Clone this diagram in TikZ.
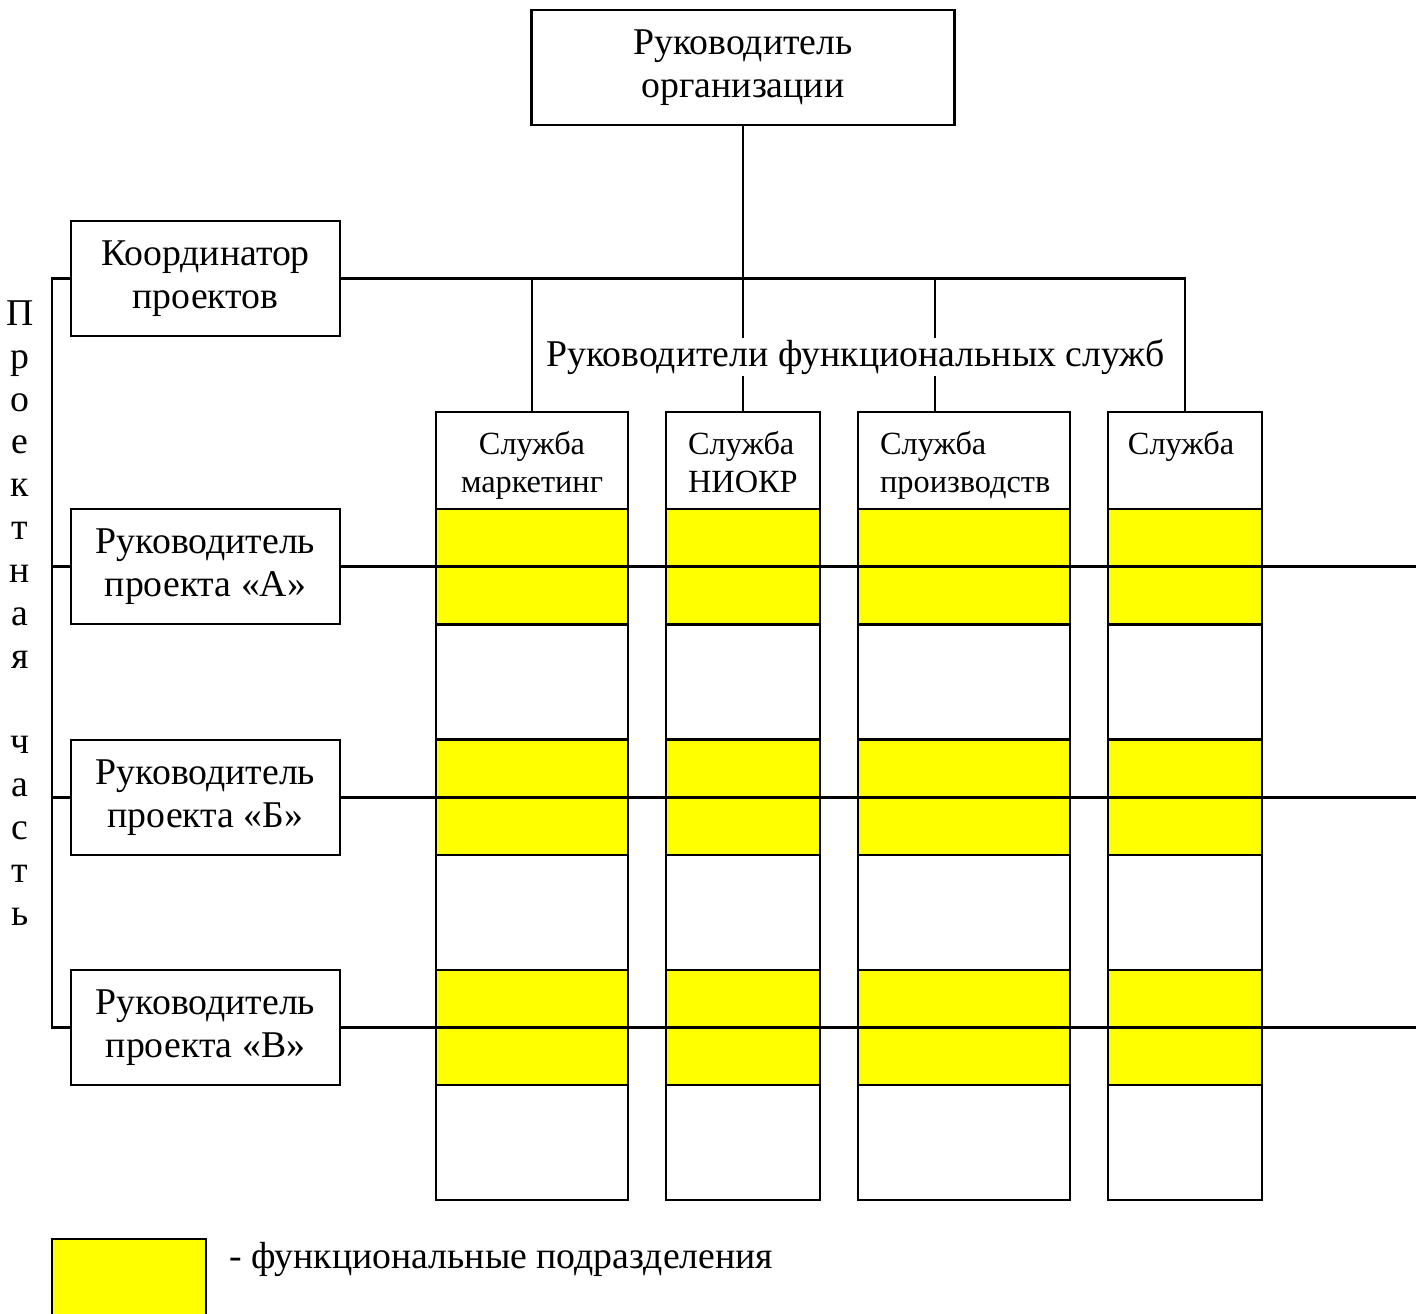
\documentclass[tikz,border=0pt]{standalone}
\usepackage{fontspec}
\setmainfont{Liberation Serif}
\definecolor{unitfill}{RGB}{255,255,0}
\newcommand\mainsize{\fontsize{21.5}{24.4}\selectfont}
\newcommand\hdrsize{\fontsize{18.4}{21.5}\selectfont}
\begin{document}
\begin{tikzpicture}[x=0.02cm, y=-0.02cm, line width=1.3pt,
  box/.style={draw, fill=white, minimum width=5.38cm, minimum height=2.3cm,
    align=center, inner sep=0pt, font=\mainsize},
  cell/.style={draw, minimum height=2.3cm, inner sep=0pt},
  hdrtext/.style={inner sep=0pt, font=\hdrsize, anchor=north},
  lbl/.style={inner sep=0pt, font=\mainsize}]
\useasboundingbox (0,0) rectangle (1426,1314);

% head of the organisation and the project side
\node[box, minimum width=8.46cm] (top) at (743,67.5) {Руководитель\\организации};
\node[box] (coord) at (205.5,278.5) {Координатор\\проектов};
\node[box] (pA) at (205.5,566.5) {Руководитель\\проекта «А»};
\node[box] (pB) at (205.5,797.5) {Руководитель\\проекта «Б»};
\node[box] (pC) at (205.5,1027.5) {Руководитель\\проекта «В»};

% functional columns: header cell and six rows
\foreach \n/\cx/\w in {1/532/3.84, 2/743/3.08, 3/964/4.24, 4/1185/3.08} {
  \node[cell, minimum width=\w cm, minimum height=1.94cm] (h\n) at (\cx,460.5) {};
  \foreach \r/\cy/\f in {1/566.5/unitfill, 2/682/white, 3/797.5/unitfill,
                         4/912.5/white, 5/1027.5/unitfill, 6/1142.5/white}
    \node[cell, fill=\f, minimum width=\w cm] (c\n r\r) at (\cx,\cy) {};
}

% column titles
\node[hdrtext, align=center] (t1) at (532,430) {Служба\\маркетинг};
\node[hdrtext, align=left, anchor=north west] (t2) at (687,430) {Служба\\НИОКР};
\node[hdrtext, align=left, anchor=north west] (t3) at (879,430) {Служба\\производств};
\node[hdrtext] (t4) at (1181,430) {Служба};

% links from the head to the functional services
\coordinate (j1) at (532,278.5);
\coordinate (j3) at (935,278.5);
\draw (top.south) -- (h2.north);
\draw (coord.east) -| (h4.north);
\draw (j1) -- (h1.north);
\draw (j3) -- (j3 |- h3.north);
\node[lbl, fill=white, inner ysep=1pt] (fl) at (855.5,357) {Руководители функциональных служб};

% project bracket on the left
\coordinate (bl) at (52,278.5);
\draw (coord.west) -- (bl) |- (pC.west);
\draw (pA.west) -- (pA.west -| bl);
\draw (pB.west) -- (pB.west -| bl);

% project lines across the matrix
\coordinate (eA) at (1416,566.5);
\coordinate (eB) at (1416,797.5);
\coordinate (eC) at (1416,1027.5);
\draw (pA.east) -- (eA);
\draw (pB.east) -- (eB);
\draw (pC.east) -- (eC);

% vertical caption
\node[lbl, align=center] (side) at (20,613)
  {П\\р\\о\\е\\к\\т\\н\\а\\я\\\mbox{}\\ч\\а\\с\\т\\ь};

% legend
\node[draw, fill=unitfill, minimum width=3.08cm, minimum height=1.54cm, inner sep=0pt]
  (key) at (129,1277.5) {};
\node[lbl, anchor=west] (keytext) at (228,1259) {- функциональные подразделения};
\end{tikzpicture}
\end{document}
